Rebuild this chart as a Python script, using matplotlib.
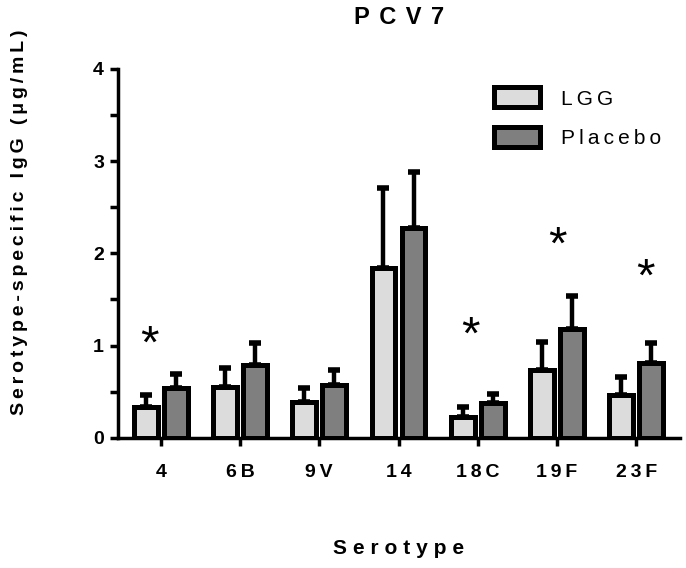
import numpy as np
import matplotlib.pyplot as plt
from matplotlib.ticker import MultipleLocator

# datos
serotipos = ["4", "6B", "9V", "14", "18C", "19F", "23F"]
lgg_media = [0.34, 0.55, 0.39, 1.84, 0.23, 0.74, 0.47]
lgg_err = [0.12, 0.21, 0.15, 0.87, 0.10, 0.30, 0.19]
placebo_media = [0.54, 0.79, 0.57, 2.27, 0.38, 1.18, 0.81]
placebo_err = [0.15, 0.24, 0.17, 0.61, 0.10, 0.36, 0.22]

# asteriscos de significancia (serotipo, altura)
sig_serotipos = ["4", "18C", "19F", "23F"]
sig_altura = [1.12, 1.22, 2.19, 1.85]

plt.rcParams['font.family'] = ['Liberation Sans', 'DejaVu Sans']


def espaciado(s, sep='\u2009'):
    return sep.join(s)


fig = plt.figure(figsize=(6.86, 5.68), dpi=100)
ax = fig.add_axes([0.172, 0.229, 0.819, 0.650])

x = np.arange(len(serotipos))
w = 0.30
d = 0.19
lw = 3.6

ax.bar(x - d, lgg_media, w, color="#dcdcdc", edgecolor="black", linewidth=lw,
       label="LGG", zorder=3)
ax.bar(x + d, placebo_media, w, color="#7f7f7f", edgecolor="black", linewidth=lw,
       label="Placebo", zorder=3)
ax.errorbar(x - d, lgg_media, yerr=[np.zeros(len(x)), lgg_err], fmt='none',
            ecolor="black", elinewidth=3.2, capsize=4.5, capthick=4, zorder=2)
ax.errorbar(x + d, placebo_media, yerr=[np.zeros(len(x)), placebo_err], fmt='none',
            ecolor="black", elinewidth=3.2, capsize=4.5, capthick=4, zorder=2)

offsets = {"4": -0.14, "18C": -0.09, "19F": 0.01, "23F": 0.11}
for s, h in zip(sig_serotipos, sig_altura):
    ax.annotate("*", (serotipos.index(s) + offsets[s], h), xytext=(0, -8),
                textcoords="offset points", ha="center", va="center",
                fontsize=34, color="black")

ax.set_xlim(-0.54, 6.55)
ax.set_ylim(0, 4)
ax.yaxis.set_major_locator(MultipleLocator(1))
ax.yaxis.set_minor_locator(MultipleLocator(0.5))
ax.set_xticks(x)
ax.set_xticklabels([espaciado(s) for s in serotipos], fontsize=14, fontweight="bold")
for t in ax.get_yticklabels():
    t.set_fontsize(14)
    t.set_fontweight("bold")

for side in ["top", "right"]:
    ax.spines[side].set_visible(False)
for side in ["left", "bottom"]:
    ax.spines[side].set_linewidth(2.5)
ax.tick_params(axis="both", which="major", width=2.5, length=6, pad=4)
ax.tick_params(axis="y", which="minor", width=2.5, length=6)
ax.tick_params(axis="x", pad=13)

ax.set_xlabel(espaciado("Serotype", '\u2009\u200a'), fontsize=15, fontweight="bold")
ax.xaxis.set_label_coords(0.5, -0.275)
ax.set_ylabel(espaciado("Serotype-specific IgG (μg/mL)"), fontsize=14,
              fontweight="bold")
ax.yaxis.set_label_coords(-0.16, 0.585)
ax.set_title(espaciado("PCV7", '\u2009\u2009'), fontsize=17, fontweight="bold",
             pad=32)

leg = ax.legend(loc="upper right", bbox_to_anchor=(1.0, 1.0), frameon=False,
                fontsize=15, handlelength=2.2, handleheight=1.1,
                handletextpad=1.0, labelspacing=0.9)
for t in leg.get_texts():
    t.set_text(espaciado(t.get_text()))

fig.savefig("out.png", dpi=100)
